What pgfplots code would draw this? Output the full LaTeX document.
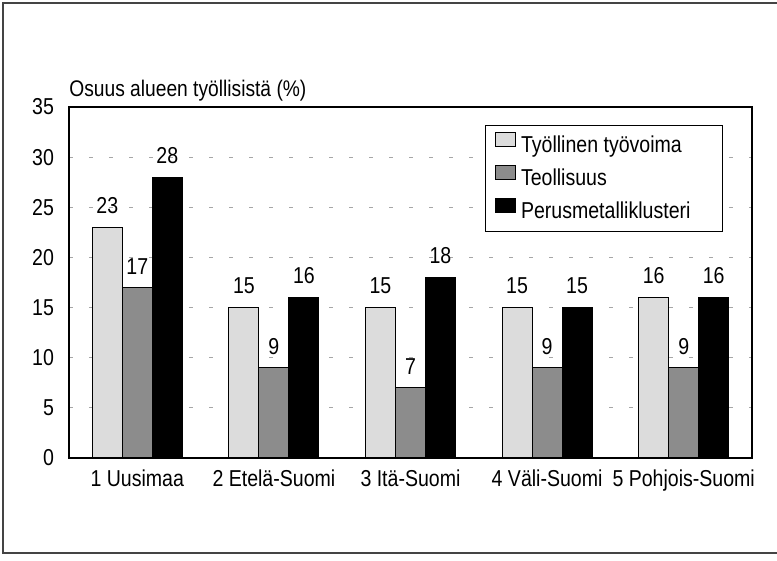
\documentclass[border=0pt]{standalone}
\usepackage{fontspec}
\setmainfont{Liberation Sans}[FakeStretch=0.85]
\usepackage{pgfplots}
\pgfplotsset{compat=1.18}

\definecolor{lightbar}{HTML}{DCDCDC}
\definecolor{midbar}{HTML}{8C8C8C}
\definecolor{framegray}{HTML}{444444}

\pgfplotstableread{
x tyovoima teollisuus perusmetalli
0 23 17 28
1 15  9 16
2 15  7 18
3 15  9 15
4 16  9 16
}\datatable

\begin{document}
\fontsize{11.5}{13}\selectfont
\begin{tikzpicture}
% picture size: 1 px of the reference = 0.5pt, axis box at origin
\useasboundingbox (-34.5pt,-51.5pt) rectangle (354pt,229pt);
\draw[framegray, line width=0.7pt] (354pt,227.5pt) -- (-33pt,227.5pt) -- (-33pt,-47.5pt) -- (354pt,-47.5pt);

\begin{axis}[
    scale only axis,
    width=341.5pt, height=175.5pt,
    ybar=0pt,
    bar width=15pt,
    xmin=-0.5, xmax=4.5,
    ymin=0, ymax=35,
    xtick=data,
    xticklabels={1 Uusimaa, 2 Etelä-Suomi, 3 Itä-Suomi, 4 Väli-Suomi, 5 Pohjois-Suomi},
    ytick={0,5,...,35},
    major tick length=0pt,
    axis line style={line width=0.6pt},
    /pgf/number format/assume math mode=true,
    ticklabel style={font=\fontsize{11.5}{13}\selectfont},
    xticklabel style={yshift=-2pt},
    yticklabel style={xshift=-3.5pt},
    ymajorgrids,
    grid style={gray!70, line width=0.4pt, dash pattern=on 2pt off 8pt},
    nodes near coords,
    every node near coord/.append style={font=\fontsize{11.5}{13}\selectfont, inner sep=0pt, yshift=6.5pt},
    legend cell align=left,
    legend image code/.code={\draw[#1, line width=0.5pt] (0pt,-0.5pt) rectangle (10pt,6.5pt);},
    legend style={at={(1,1)}, anchor=north east, xshift=-14.5pt, yshift=-9pt,
        draw=black, line width=0.5pt, inner xsep=5pt, inner ysep=3pt,
        row sep=2.5pt, font=\fontsize{11.5}{13}\selectfont,
        /tikz/every odd column/.append style={column sep=0.5pt}},
    clip=false,
]
\addplot[fill=lightbar, draw=black, line width=0.5pt] table[x=x, y=tyovoima] {\datatable};
\addplot[fill=midbar, draw=black, line width=0.5pt] table[x=x, y=teollisuus] {\datatable};
\addplot[fill=black, draw=black, line width=0.5pt] table[x=x, y=perusmetalli] {\datatable};
\legend{Työllinen työvoima, Teollisuus, Perusmetalliklusteri\rule{9pt}{0pt}}
\node[anchor=base west, font=\fontsize{11.3}{13}\selectfont, inner sep=0pt] at ([yshift=5pt]rel axis cs:0,1) {Osuus alueen työllisistä (\%)};
\end{axis}
\end{tikzpicture}
\end{document}
